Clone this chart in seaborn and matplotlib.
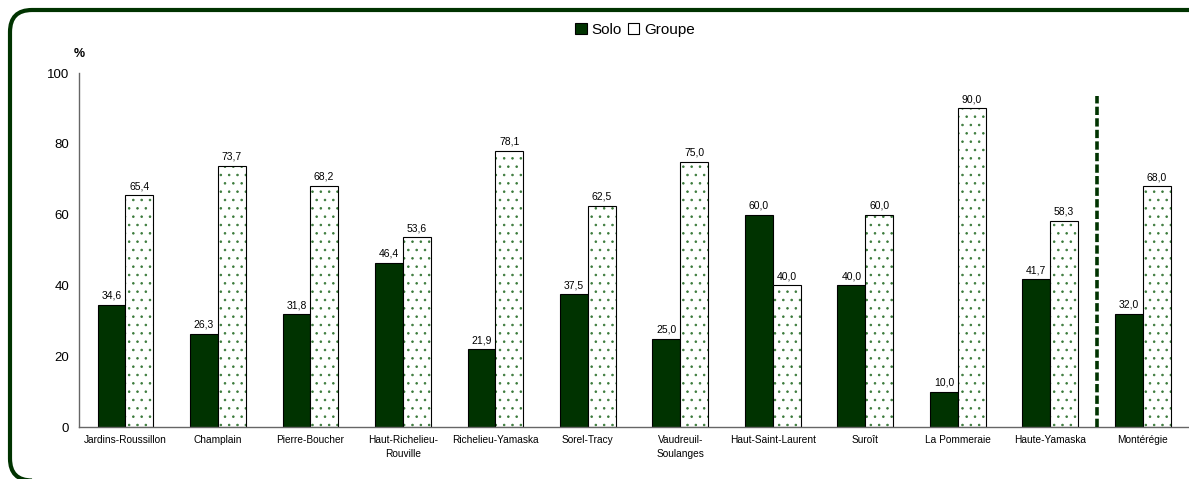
import matplotlib
matplotlib.use("Agg")
import matplotlib.pyplot as plt
from matplotlib.patches import FancyBboxPatch, Patch, Rectangle
from matplotlib.transforms import IdentityTransform
import seaborn as sns
import pandas as pd

# Data
regions = ["Jardins-Roussillon", "Champlain", "Pierre-Boucher", "Haut-Richelieu-\nRouville",
           "Richelieu-Yamaska", "Sorel-Tracy", "Vaudreuil-\nSoulanges", "Haut-Saint-Laurent",
           "Suroît", "La Pommeraie", "Haute-Yamaska", "Montérégie"]
solo = [34.6, 26.3, 31.8, 46.4, 21.9, 37.5, 25.0, 60.0, 40.0, 10.0, 41.7, 32.0]
groupe = [65.4, 73.7, 68.2, 53.6, 78.1, 62.5, 75.0, 40.0, 60.0, 90.0, 58.3, 68.0]
series = ["Solo", "Groupe"]
yticks = [0, 20, 40, 60, 80, 100]

DARK = "#003300"
DOT = "#3a7a3a"

sns.set_theme(style="white")
plt.rcParams["font.family"] = ["Liberation Sans", "DejaVu Sans"]
plt.rcParams["text.color"] = "black"
plt.rcParams["xtick.color"] = "black"
plt.rcParams["ytick.color"] = "black"
plt.rcParams["hatch.linewidth"] = 0.6

df = pd.DataFrame({
    "region": regions * 2,
    "serie": [series[0]] * len(regions) + [series[1]] * len(regions),
    "valeur": solo + groupe,
})

fig = plt.figure(figsize=(11.89, 4.79), dpi=100)
ax = fig.add_axes([79 / 1189, 1 - 427 / 479, 1 - 79 / 1189, (427 - 73) / 479])

sns.barplot(data=df, x="region", y="valeur", hue="serie", hue_order=series,
            palette={"Solo": DARK, "Groupe": "white"}, width=0.6, legend=False,
            saturation=1, ax=ax)

solo_bars, groupe_bars = ax.containers[0], ax.containers[1]
for p in solo_bars:
    p.set_edgecolor("black")
    p.set_linewidth(0.8)
for p in groupe_bars:
    # dotted fill, then a black outline on top
    p.set_facecolor("white")
    p.set_edgecolor(DOT)
    p.set_hatch("..")
    p.set_linewidth(0)
    ax.add_patch(Rectangle(p.get_xy(), p.get_width(), p.get_height(),
                           fill=False, edgecolor="black", linewidth=0.8, zorder=p.get_zorder() + 0.1))

fmt = lambda v: f"{v:.1f}".replace(".", ",")
ax.bar_label(solo_bars, labels=[fmt(v) for v in solo], padding=3, fontsize=7.5)
ax.bar_label(groupe_bars, labels=[fmt(v) for v in groupe], padding=3, fontsize=7.5)

# Separator before the regional total
ax.plot([10.5, 10.5], [0, 93.5], color=DARK, linewidth=2.6,
        linestyle=(0, (2.3, 0.9)), solid_capstyle="butt", zorder=5)

ax.set_xlim(-0.5, len(regions) - 0.5)
ax.set_ylim(0, 100)
ax.set_yticks(yticks)
ax.set_yticklabels([str(t) for t in yticks], fontsize=9.5)
ax.set_xlabel("")
ax.set_ylabel("")
ax.set_xticks(range(len(regions)))
ax.set_xticklabels(regions, fontsize=7.3, linespacing=1.5)
ax.set_xticks([i - 0.5 for i in range(len(regions) + 1)], minor=True)
ax.tick_params(axis="x", which="major", length=0, pad=6)
ax.tick_params(axis="x", which="minor", length=4, width=0.8, color="#444444", direction="out")
ax.tick_params(axis="y", length=4, width=0.8, color="#444444", direction="out", pad=3)

for side in ["top", "right"]:
    ax.spines[side].set_visible(False)
for side in ["left", "bottom"]:
    ax.spines[side].set_color("#666666")
    ax.spines[side].set_linewidth(1.0)

ax.text(0.0, 1.055, "%", transform=ax.transAxes, fontsize=9, fontweight="bold",
        ha="center", va="center")

handles = [Patch(facecolor=DARK, edgecolor="black", linewidth=0.8),
           Patch(facecolor="white", edgecolor="black", linewidth=0.8)]
leg = fig.legend(handles, series, loc="center", bbox_to_anchor=(635 / 1189, 1 - 30 / 479),
                 ncol=2, frameon=False, fontsize=11, handlelength=0.75, handleheight=0.75,
                 handletextpad=0.3, columnspacing=0.4)

# Rounded frame around the chart
frame = FancyBboxPatch((10, -1.5), 1400, 470.5, boxstyle="round,pad=0,rounding_size=22",
                       facecolor="none", edgecolor=DARK, linewidth=3)
fig.add_artist(frame)
frame.set_transform(IdentityTransform())

fig.savefig("out.png", dpi=100)
